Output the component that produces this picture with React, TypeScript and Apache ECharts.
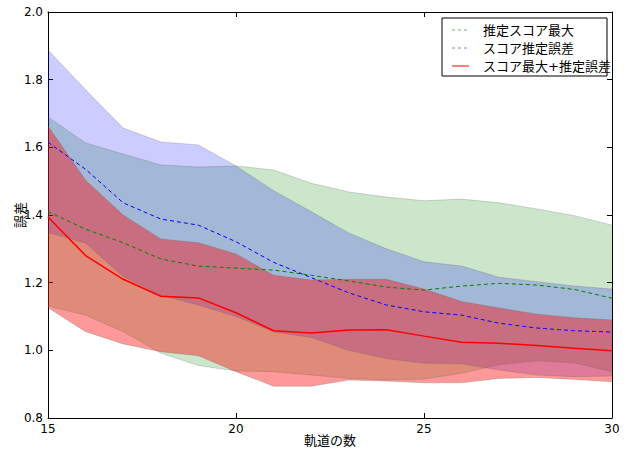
import React, { useEffect, useRef } from "react";
import * as echarts from "echarts";

const xs = [15, 16, 17, 18, 19, 20, 21, 22, 23, 24, 25, 26, 27, 28, 29, 30];

const greenMean = [1.41, 1.358, 1.318, 1.27, 1.249, 1.243, 1.237, 1.222, 1.205, 1.187, 1.178, 1.19, 1.198, 1.193, 1.18, 1.154];
const greenUpper = [1.69, 1.613, 1.58, 1.548, 1.542, 1.545, 1.533, 1.494, 1.468, 1.453, 1.442, 1.447, 1.436, 1.418, 1.398, 1.37];
const greenLower = [1.131, 1.104, 1.055, 0.992, 0.955, 0.939, 0.937, 0.927, 0.917, 0.912, 0.915, 0.932, 0.958, 0.969, 0.963, 0.937];

const blueMean = [1.615, 1.535, 1.436, 1.388, 1.37, 1.321, 1.26, 1.215, 1.17, 1.134, 1.114, 1.104, 1.08, 1.066, 1.058, 1.054];
const blueUpper = [1.888, 1.77, 1.657, 1.616, 1.607, 1.545, 1.472, 1.41, 1.347, 1.3, 1.262, 1.249, 1.216, 1.203, 1.19, 1.181];
const blueLower = [1.348, 1.317, 1.218, 1.163, 1.134, 1.1, 1.055, 1.038, 1.0, 0.976, 0.962, 0.96, 0.942, 0.927, 0.922, 0.924];

const redMean = [1.394, 1.28, 1.21, 1.16, 1.155, 1.111, 1.058, 1.051, 1.06, 1.061, 1.042, 1.024, 1.021, 1.014, 1.006, 0.999];
const redUpper = [1.663, 1.503, 1.4, 1.329, 1.318, 1.285, 1.222, 1.208, 1.21, 1.21, 1.181, 1.144, 1.125, 1.107, 1.096, 1.09];
const redLower = [1.126, 1.055, 1.019, 0.996, 0.984, 0.937, 0.894, 0.894, 0.912, 0.909, 0.904, 0.904, 0.917, 0.92, 0.914, 0.907];

const names = ["推定スコア最大", "スコア推定誤差", "スコア最大+推定誤差"];
const xName = "軌道の数";
const yName = "誤差";

const FONT = "'DejaVu Sans', 'Noto Sans CJK JP', sans-serif";
const edge = { width: 0.7, color: "rgba(90,90,90,0.35)" };

function band(key: string, lower: number[], upper: number[], fill: string) {
  return [
    {
      type: "line",
      name: key + "_lo",
      stack: key,
      symbol: "none",
      silent: true,
      data: lower.slice(),
      lineStyle: edge,
      z: 1,
    },
    {
      type: "line",
      name: key + "_hi",
      stack: key,
      symbol: "none",
      silent: true,
      data: upper.map((u, i) => u - lower[i]),
      lineStyle: edge,
      areaStyle: { color: fill, opacity: 1 },
      z: 1,
    },
  ];
}

const showMajor = (idx: number) => xs[idx] % 5 === 0;

export default function App() {
  const ref = useRef<HTMLDivElement>(null);
  useEffect(() => {
    if (!ref.current) return;
    const chart = echarts.init(ref.current, null, { renderer: "svg" });
    const axisCommon = {
      axisLine: { show: true, lineStyle: { color: "#000", width: 1 } },
      splitLine: { show: false },
    };
    const tick = { show: true, inside: true, length: 5, lineStyle: { color: "#000" } };
    // legend box geometry
    const lx = 442, ly = 18, lw = 165, lh = 58;
    const rows = [30, 48, 66];
    const legendColors = ["#66b366", "#8080ff", "#ff5555"];
    const legendDash: any[] = [[3, 3], [3, 3], null];
    const extraGraphics: any[] = [
      {
        type: "rect",
        shape: { x: lx, y: ly, width: lw, height: lh },
        style: { fill: "#fff", stroke: "#000", lineWidth: 1 },
        z: 10,
      },
      {
        type: "text",
        x: 20,
        y: 215,
        rotation: Math.PI / 2,
        style: {
          text: yName,
          fontSize: 13,
          fill: "#000",
          fontFamily: FONT,
          align: "center",
          verticalAlign: "middle",
        },
        z: 11,
      },
      {
        type: "text",
        x: 330,
        y: 440,
        style: {
          text: xName,
          fontSize: 13,
          fill: "#000",
          fontFamily: FONT,
          align: "center",
          verticalAlign: "middle",
        },
        z: 11,
      },
    ];
    names.forEach((n, i) => {
      extraGraphics.push({
        type: "line",
        shape: { x1: 452, y1: rows[i], x2: 469, y2: rows[i] },
        style: { stroke: legendColors[i], lineWidth: i === 2 ? 1.5 : 1, lineDash: legendDash[i] },
        z: 11,
      });
      extraGraphics.push({
        type: "text",
        x: 483,
        y: rows[i],
        style: {
          text: n,
          fontSize: 13,
          fill: "#000",
          fontFamily: FONT,
          verticalAlign: "middle",
          align: "left",
        },
        z: 11,
      });
    });
    chart.setOption({
      animation: false,
      backgroundColor: "#fff",
      textStyle: { fontFamily: FONT },
      grid: { left: 48, right: 20, top: 12, bottom: 32, show: false, containLabel: false, outerBoundsMode: "none" },
      graphic: extraGraphics,
      xAxis: [
        {
          type: "category",
          data: xs,
          boundaryGap: false,
          axisLabel: { fontSize: 12, color: "#000", margin: 5, fontFamily: FONT, interval: showMajor },
          axisTick: { ...tick, interval: showMajor },
          ...axisCommon,
        },
        {
          type: "category",
          data: xs,
          boundaryGap: false,
          position: "top",
          axisLabel: { show: false },
          axisTick: { ...tick, interval: showMajor },
          ...axisCommon,
        },
      ],
      yAxis: [
        {
          type: "value",
          min: 0.8,
          max: 2.0,
          interval: 0.2,
          axisLabel: {
            fontSize: 12,
            color: "#000",
            margin: 5,
            fontFamily: FONT,
            formatter: (v: number) => v.toFixed(1),
          },
          axisTick: tick,
          ...axisCommon,
        },
        {
          type: "value",
          position: "right",
          min: 0.8,
          max: 2.0,
          interval: 0.2,
          axisLabel: { show: false },
          axisTick: tick,
          ...axisCommon,
        },
      ],
      series: [
        ...band("g", greenLower, greenUpper, "rgba(0,128,0,0.2)"),
        ...band("b", blueLower, blueUpper, "rgba(0,0,255,0.2)"),
        ...band("r", redLower, redUpper, "rgba(255,0,0,0.4)"),
        {
          type: "line",
          name: names[0],
          symbol: "none",
          data: greenMean.slice(),
          lineStyle: { color: "#008000", width: 1, type: [4, 3] },
          itemStyle: { color: "#008000" },
          z: 5,
        },
        {
          type: "line",
          name: names[1],
          symbol: "none",
          data: blueMean.slice(),
          lineStyle: { color: "#0000ff", width: 1, type: [4, 3] },
          itemStyle: { color: "#0000ff" },
          z: 5,
        },
        {
          type: "line",
          name: names[2],
          symbol: "none",
          data: redMean.slice(),
          lineStyle: { color: "#ff0000", width: 1.5 },
          itemStyle: { color: "#ff0000" },
          z: 5,
        },
      ],
    });
    return () => chart.dispose();
  }, []);
  return (
    <div
      ref={ref}
      style={{ position: "absolute", left: 0, top: 0, width: 632, height: 450 }}
    />
  );
}
